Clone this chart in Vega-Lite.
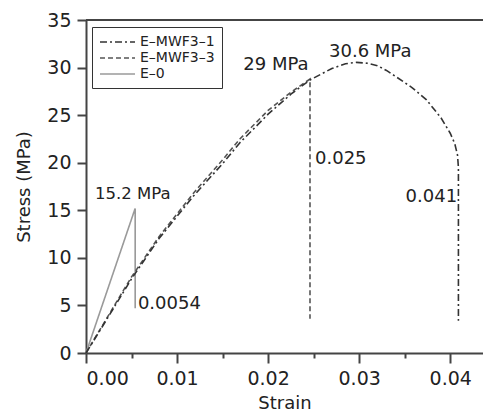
{
  "$schema": "https://vega.github.io/schema/vega-lite/v6.json",
  "width": 397,
  "height": 333,
  "autosize": {"type": "none"},
  "padding": {"left": 86, "top": 20, "right": 0, "bottom": 64},
  "background": "white",
  "config": {
    "view": {"stroke": null},
    "font": "DejaVu Sans",
    "axis": {
      "domainColor": "#444", "domainWidth": 2, "tickColor": "#444", "tickWidth": 2,
      "labelFont": "DejaVu Sans", "labelFontSize": 19, "labelColor": "#222",
      "titleFont": "DejaVu Sans", "titleFontSize": 18, "titleFontWeight": "normal", "titleColor": "#222",
      "grid": false
    },
    "legend": {
      "strokeColor": "#333", "padding": 7,
      "labelFont": "DejaVu Sans", "labelFontSize": 14, "labelColor": "#222",
      "symbolType": "M-1,0H4", "symbolSize": 196, "symbolStrokeWidth": 1.6, "rowPadding": 1, "labelOffset": 25
    }
  },
  "datasets": {
    "curves": [
      {"series": "E–0", "i": 0, "strain": 0, "stress": 0},
      {"series": "E–0", "i": 1, "strain": 0.0054, "stress": 15.2},
      {"series": "E–0", "i": 2, "strain": 0.0054, "stress": 4.7},
      {"series": "E–MWF3–3", "i": 0, "strain": 0, "stress": 0},
      {"series": "E–MWF3–3", "i": 1, "strain": 0.002, "stress": 3.2},
      {"series": "E–MWF3–3", "i": 2, "strain": 0.005, "stress": 8.0},
      {"series": "E–MWF3–3", "i": 3, "strain": 0.008, "stress": 12.2},
      {"series": "E–MWF3–3", "i": 4, "strain": 0.0118, "stress": 16.8},
      {"series": "E–MWF3–3", "i": 5, "strain": 0.015, "stress": 20.3},
      {"series": "E–MWF3–3", "i": 6, "strain": 0.0169, "stress": 22.5},
      {"series": "E–MWF3–3", "i": 7, "strain": 0.02, "stress": 25.5},
      {"series": "E–MWF3–3", "i": 8, "strain": 0.0225, "stress": 27.4},
      {"series": "E–MWF3–3", "i": 9, "strain": 0.0246, "stress": 28.8},
      {"series": "E–MWF3–3", "i": 10, "strain": 0.0246, "stress": 3.6},
      {"series": "E–MWF3–1", "i": 0, "strain": 0, "stress": 0},
      {"series": "E–MWF3–1", "i": 1, "strain": 0.002, "stress": 3.1},
      {"series": "E–MWF3–1", "i": 2, "strain": 0.005, "stress": 7.8},
      {"series": "E–MWF3–1", "i": 3, "strain": 0.008, "stress": 12.0},
      {"series": "E–MWF3–1", "i": 4, "strain": 0.0118, "stress": 16.5},
      {"series": "E–MWF3–1", "i": 5, "strain": 0.015, "stress": 19.9},
      {"series": "E–MWF3–1", "i": 6, "strain": 0.0169, "stress": 22.1},
      {"series": "E–MWF3–1", "i": 7, "strain": 0.02, "stress": 25.1},
      {"series": "E–MWF3–1", "i": 8, "strain": 0.0225, "stress": 27.2},
      {"series": "E–MWF3–1", "i": 9, "strain": 0.0246, "stress": 28.7},
      {"series": "E–MWF3–1", "i": 10, "strain": 0.027, "stress": 29.9},
      {"series": "E–MWF3–1", "i": 11, "strain": 0.0285, "stress": 30.4},
      {"series": "E–MWF3–1", "i": 12, "strain": 0.0297, "stress": 30.55},
      {"series": "E–MWF3–1", "i": 13, "strain": 0.0309, "stress": 30.45},
      {"series": "E–MWF3–1", "i": 14, "strain": 0.032, "stress": 30.2},
      {"series": "E–MWF3–1", "i": 15, "strain": 0.033, "stress": 29.7},
      {"series": "E–MWF3–1", "i": 16, "strain": 0.0341, "stress": 29.0},
      {"series": "E–MWF3–1", "i": 17, "strain": 0.0358, "stress": 27.9},
      {"series": "E–MWF3–1", "i": 18, "strain": 0.0374, "stress": 26.6},
      {"series": "E–MWF3–1", "i": 19, "strain": 0.039, "stress": 24.7},
      {"series": "E–MWF3–1", "i": 20, "strain": 0.04, "stress": 23.1},
      {"series": "E–MWF3–1", "i": 21, "strain": 0.0405, "stress": 22.0},
      {"series": "E–MWF3–1", "i": 22, "strain": 0.0408, "stress": 20.8},
      {"series": "E–MWF3–1", "i": 23, "strain": 0.0409, "stress": 19.5},
      {"series": "E–MWF3–1", "i": 24, "strain": 0.0409, "stress": 3.4}
    ],
    "notes": [
      {"label": "15.2 MPa", "strain": 0.00099, "stress": 16.7},
      {"label": "0.0054", "strain": 0.0057, "stress": 5.2},
      {"label": "29 MPa", "strain": 0.01727, "stress": 30.27},
      {"label": "30.6 MPa", "strain": 0.02669, "stress": 31.64},
      {"label": "0.025", "strain": 0.02515, "stress": 20.34},
      {"label": "0.041", "strain": 0.0351, "stress": 16.4}
    ],
    "topline": [{"stress": 35}]
  },
  "layer": [
    {
      "data": {"name": "topline"},
      "mark": {"type": "rule", "color": "#444", "strokeWidth": 2},
      "encoding": {"y": {"field": "stress", "type": "quantitative", "scale": {"domain": [0, 35]}}}
    },
    {
      "data": {"name": "curves"},
      "mark": {"type": "line", "strokeWidth": 1.6},
      "encoding": {
        "x": {
          "field": "strain", "type": "quantitative", "title": "Strain",
          "scale": {"domain": [0, 0.0436], "nice": false},
          "axis": {
            "values": [0, 0.005, 0.01, 0.015, 0.02, 0.025, 0.03, 0.035, 0.04],
            "labelExpr": "round(datum.value*1000) % 10 == 0 ? format(datum.value, '.2f') : ''",
            "tickSize": {"condition": {"test": "round(datum.value*1000) % 10 == 0", "value": 10}, "value": 5},
            "labelPadding": 6, "titlePadding": 6
          }
        },
        "y": {
          "field": "stress", "type": "quantitative", "title": "Stress (MPa)",
          "scale": {"domain": [0, 35], "nice": false},
          "axis": {
            "values": [0, 2.5, 5, 7.5, 10, 12.5, 15, 17.5, 20, 22.5, 25, 27.5, 30, 32.5, 35],
            "labelExpr": "datum.value % 5 == 0 ? datum.label : ''",
            "tickSize": {"condition": {"test": "datum.value % 5 == 0", "value": 9}, "value": 5},
            "labelPadding": 6, "titlePadding": 13
          }
        },
        "order": {"field": "i", "type": "quantitative"},
        "color": {
          "field": "series", "type": "nominal",
          "scale": {"domain": ["E–MWF3–1", "E–MWF3–3", "E–0"], "range": ["#333333", "#555555", "#9a9a9a"]},
          "legend": {"title": null, "orient": "none", "legendX": 6, "legendY": 7}
        },
        "strokeDash": {
          "field": "series", "type": "nominal",
          "scale": {"domain": ["E–MWF3–1", "E–MWF3–3", "E–0"], "range": [[7, 3, 2, 3], [5, 3], [1, 0]]},
          "legend": {"title": null, "orient": "none", "legendX": 6, "legendY": 7}
        }
      }
    },
    {
      "data": {"name": "notes"},
      "mark": {"type": "text", "align": "left", "baseline": "middle", "font": "DejaVu Sans", "color": "#222"},
      "encoding": {
        "x": {"field": "strain", "type": "quantitative"},
        "y": {"field": "stress", "type": "quantitative"},
        "text": {"field": "label"},
        "size": {"condition": {"test": "datum.label == '15.2 MPa'", "value": 16.5}, "value": 18}
      }
    }
  ]
}
